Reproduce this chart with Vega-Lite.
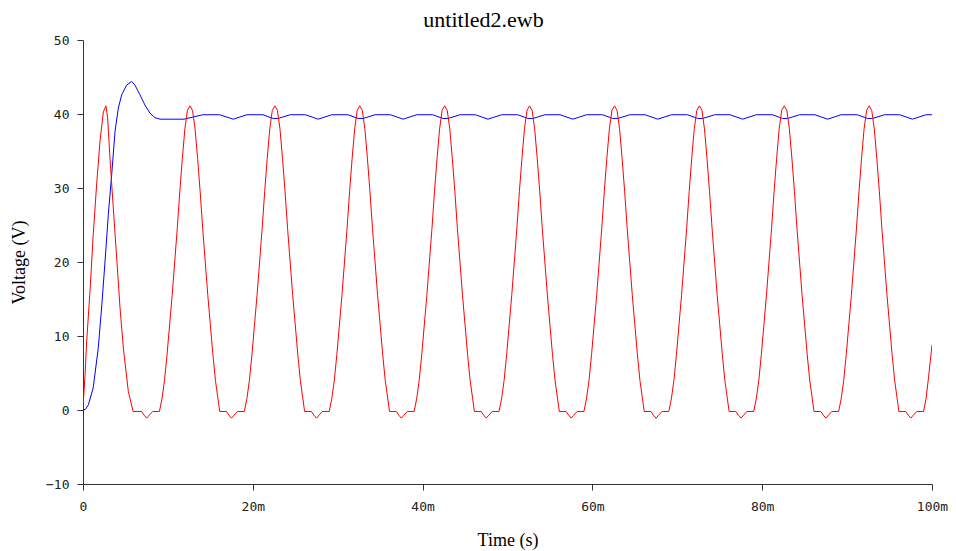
{
"$schema":"https://vega.github.io/schema/vega-lite/v6.json",
"width":849,"height":444,
"autosize":{"type":"none"},
"padding":{"left":83,"top":40,"right":24,"bottom":67},
"background":"white",
"title":{"text":"untitled2.ewb","font":"Liberation Serif","fontSize":22,"fontWeight":"normal","color":"#000000","anchor":"middle","dx":-24,"dy":26,"offset":11,"baseline":"alphabetic"},
"datasets":{
"output":[
{"time_ms":0,"voltage":0},{"time_ms":0.3,"voltage":0.1},{"time_ms":0.63,"voltage":0.7},{"time_ms":1.2,"voltage":3},{"time_ms":1.8,"voltage":8.4},{"time_ms":2.19,"voltage":13.8},{"time_ms":2.59,"voltage":20},{"time_ms":2.98,"voltage":26.4},{"time_ms":3.38,"voltage":31.8},{"time_ms":3.77,"voltage":37.6},{"time_ms":4.16,"voltage":40.8},{"time_ms":4.56,"voltage":42.6},{"time_ms":5.14,"voltage":43.9},{"time_ms":5.73,"voltage":44.4},{"time_ms":6.12,"voltage":43.9},{"time_ms":6.71,"voltage":42.6},{"time_ms":7.3,"voltage":41.2},{"time_ms":7.9,"voltage":40.1},{"time_ms":8.48,"voltage":39.5},{"time_ms":9.07,"voltage":39.3},{"time_ms":11.9,"voltage":39.3},{"time_ms":14.1,"voltage":39.9},{"time_ms":16.1,"voltage":39.9},{"time_ms":17.7,"voltage":39.3},{"time_ms":19.3,"voltage":39.9},
{"time_ms":21.2,"voltage":39.9},{"time_ms":22.4,"voltage":39.4},{"time_ms":23.0,"voltage":39.4},{"time_ms":24.4,"voltage":39.9},{"time_ms":26.2,"voltage":39.9},{"time_ms":27.7,"voltage":39.3},{"time_ms":29.3,"voltage":39.9},
{"time_ms":31.2,"voltage":39.9},{"time_ms":32.4,"voltage":39.4},{"time_ms":33.0,"voltage":39.4},{"time_ms":34.4,"voltage":39.9},{"time_ms":36.2,"voltage":39.9},{"time_ms":37.7,"voltage":39.3},{"time_ms":39.3,"voltage":39.9},
{"time_ms":41.2,"voltage":39.9},{"time_ms":42.4,"voltage":39.4},{"time_ms":43.0,"voltage":39.4},{"time_ms":44.4,"voltage":39.9},{"time_ms":46.2,"voltage":39.9},{"time_ms":47.7,"voltage":39.3},{"time_ms":49.3,"voltage":39.9},
{"time_ms":51.2,"voltage":39.9},{"time_ms":52.4,"voltage":39.4},{"time_ms":53.0,"voltage":39.4},{"time_ms":54.4,"voltage":39.9},{"time_ms":56.2,"voltage":39.9},{"time_ms":57.7,"voltage":39.3},{"time_ms":59.3,"voltage":39.9},
{"time_ms":61.2,"voltage":39.9},{"time_ms":62.4,"voltage":39.4},{"time_ms":63.0,"voltage":39.4},{"time_ms":64.4,"voltage":39.9},{"time_ms":66.2,"voltage":39.9},{"time_ms":67.7,"voltage":39.3},{"time_ms":69.3,"voltage":39.9},
{"time_ms":71.2,"voltage":39.9},{"time_ms":72.4,"voltage":39.4},{"time_ms":73.0,"voltage":39.4},{"time_ms":74.4,"voltage":39.9},{"time_ms":76.2,"voltage":39.9},{"time_ms":77.7,"voltage":39.3},{"time_ms":79.3,"voltage":39.9},
{"time_ms":81.2,"voltage":39.9},{"time_ms":82.4,"voltage":39.4},{"time_ms":83.0,"voltage":39.4},{"time_ms":84.4,"voltage":39.9},{"time_ms":86.2,"voltage":39.9},{"time_ms":87.7,"voltage":39.3},{"time_ms":89.3,"voltage":39.9},
{"time_ms":91.2,"voltage":39.9},{"time_ms":92.4,"voltage":39.4},{"time_ms":93.0,"voltage":39.4},{"time_ms":94.4,"voltage":39.9},{"time_ms":96.2,"voltage":39.9},{"time_ms":97.7,"voltage":39.3},{"time_ms":99.3,"voltage":39.9},{"time_ms":100,"voltage":39.9}
],
"input":[
{"time_ms":0,"voltage":0.3},{"time_ms":0.24,"voltage":4.7},{"time_ms":0.43,"voltage":9.2},{"time_ms":0.82,"voltage":16},{"time_ms":1.2,"voltage":23.6},{"time_ms":1.6,"voltage":30.4},{"time_ms":2.0,"voltage":36.3},{"time_ms":2.4,"voltage":40.3},{"time_ms":2.7,"voltage":41.1},{"time_ms":2.9,"voltage":39.5},{"time_ms":3.18,"voltage":34},{"time_ms":3.57,"voltage":27.3},{"time_ms":3.97,"voltage":20.5},{"time_ms":4.36,"voltage":13.8},{"time_ms":4.75,"voltage":8.4},{"time_ms":5.34,"voltage":2.5},{"time_ms":5.9,"voltage":-0.2},{"time_ms":6.9,"voltage":-0.2},{"time_ms":7.2,"voltage":-0.7},{"time_ms":7.5,"voltage":-1.1},{"time_ms":7.8,"voltage":-0.7},{"time_ms":8.2,"voltage":-0.2},
{"time_ms":9.0,"voltage":-0.2},{"time_ms":9.3,"voltage":1.5},{"time_ms":9.6,"voltage":4},{"time_ms":9.9,"voltage":7.5},{"time_ms":10.2,"voltage":11.5},{"time_ms":10.5,"voltage":15.5},{"time_ms":10.8,"voltage":20},{"time_ms":11.1,"voltage":24.5},{"time_ms":11.4,"voltage":29.5},{"time_ms":11.7,"voltage":34},{"time_ms":12.0,"voltage":38},{"time_ms":12.3,"voltage":40.5},{"time_ms":12.6,"voltage":41.1},{"time_ms":12.9,"voltage":40.5},{"time_ms":13.2,"voltage":38},{"time_ms":13.5,"voltage":34},{"time_ms":13.8,"voltage":29.5},{"time_ms":14.1,"voltage":24.5},{"time_ms":14.4,"voltage":20},{"time_ms":14.7,"voltage":15.5},{"time_ms":15.0,"voltage":11.5},{"time_ms":15.3,"voltage":7.5},{"time_ms":15.6,"voltage":4},{"time_ms":15.9,"voltage":1.5},{"time_ms":16.1,"voltage":-0.2},{"time_ms":16.9,"voltage":-0.2},{"time_ms":17.2,"voltage":-0.7},{"time_ms":17.5,"voltage":-1.1},{"time_ms":17.8,"voltage":-0.7},{"time_ms":18.2,"voltage":-0.2},
{"time_ms":19.0,"voltage":-0.2},{"time_ms":19.3,"voltage":1.5},{"time_ms":19.6,"voltage":4},{"time_ms":19.9,"voltage":7.5},{"time_ms":20.2,"voltage":11.5},{"time_ms":20.5,"voltage":15.5},{"time_ms":20.8,"voltage":20},{"time_ms":21.1,"voltage":24.5},{"time_ms":21.4,"voltage":29.5},{"time_ms":21.7,"voltage":34},{"time_ms":22.0,"voltage":38},{"time_ms":22.3,"voltage":40.5},{"time_ms":22.6,"voltage":41.1},{"time_ms":22.9,"voltage":40.5},{"time_ms":23.2,"voltage":38},{"time_ms":23.5,"voltage":34},{"time_ms":23.8,"voltage":29.5},{"time_ms":24.1,"voltage":24.5},{"time_ms":24.4,"voltage":20},{"time_ms":24.7,"voltage":15.5},{"time_ms":25.0,"voltage":11.5},{"time_ms":25.3,"voltage":7.5},{"time_ms":25.6,"voltage":4},{"time_ms":25.9,"voltage":1.5},{"time_ms":26.1,"voltage":-0.2},{"time_ms":26.9,"voltage":-0.2},{"time_ms":27.2,"voltage":-0.7},{"time_ms":27.5,"voltage":-1.1},{"time_ms":27.8,"voltage":-0.7},{"time_ms":28.2,"voltage":-0.2},
{"time_ms":29.0,"voltage":-0.2},{"time_ms":29.3,"voltage":1.5},{"time_ms":29.6,"voltage":4},{"time_ms":29.9,"voltage":7.5},{"time_ms":30.2,"voltage":11.5},{"time_ms":30.5,"voltage":15.5},{"time_ms":30.8,"voltage":20},{"time_ms":31.1,"voltage":24.5},{"time_ms":31.4,"voltage":29.5},{"time_ms":31.7,"voltage":34},{"time_ms":32.0,"voltage":38},{"time_ms":32.3,"voltage":40.5},{"time_ms":32.6,"voltage":41.1},{"time_ms":32.9,"voltage":40.5},{"time_ms":33.2,"voltage":38},{"time_ms":33.5,"voltage":34},{"time_ms":33.8,"voltage":29.5},{"time_ms":34.1,"voltage":24.5},{"time_ms":34.4,"voltage":20},{"time_ms":34.7,"voltage":15.5},{"time_ms":35.0,"voltage":11.5},{"time_ms":35.3,"voltage":7.5},{"time_ms":35.6,"voltage":4},{"time_ms":35.9,"voltage":1.5},{"time_ms":36.1,"voltage":-0.2},{"time_ms":36.9,"voltage":-0.2},{"time_ms":37.2,"voltage":-0.7},{"time_ms":37.5,"voltage":-1.1},{"time_ms":37.8,"voltage":-0.7},{"time_ms":38.2,"voltage":-0.2},
{"time_ms":39.0,"voltage":-0.2},{"time_ms":39.3,"voltage":1.5},{"time_ms":39.6,"voltage":4},{"time_ms":39.9,"voltage":7.5},{"time_ms":40.2,"voltage":11.5},{"time_ms":40.5,"voltage":15.5},{"time_ms":40.8,"voltage":20},{"time_ms":41.1,"voltage":24.5},{"time_ms":41.4,"voltage":29.5},{"time_ms":41.7,"voltage":34},{"time_ms":42.0,"voltage":38},{"time_ms":42.3,"voltage":40.5},{"time_ms":42.6,"voltage":41.1},{"time_ms":42.9,"voltage":40.5},{"time_ms":43.2,"voltage":38},{"time_ms":43.5,"voltage":34},{"time_ms":43.8,"voltage":29.5},{"time_ms":44.1,"voltage":24.5},{"time_ms":44.4,"voltage":20},{"time_ms":44.7,"voltage":15.5},{"time_ms":45.0,"voltage":11.5},{"time_ms":45.3,"voltage":7.5},{"time_ms":45.6,"voltage":4},{"time_ms":45.9,"voltage":1.5},{"time_ms":46.1,"voltage":-0.2},{"time_ms":46.9,"voltage":-0.2},{"time_ms":47.2,"voltage":-0.7},{"time_ms":47.5,"voltage":-1.1},{"time_ms":47.8,"voltage":-0.7},{"time_ms":48.2,"voltage":-0.2},
{"time_ms":49.0,"voltage":-0.2},{"time_ms":49.3,"voltage":1.5},{"time_ms":49.6,"voltage":4},{"time_ms":49.9,"voltage":7.5},{"time_ms":50.2,"voltage":11.5},{"time_ms":50.5,"voltage":15.5},{"time_ms":50.8,"voltage":20},{"time_ms":51.1,"voltage":24.5},{"time_ms":51.4,"voltage":29.5},{"time_ms":51.7,"voltage":34},{"time_ms":52.0,"voltage":38},{"time_ms":52.3,"voltage":40.5},{"time_ms":52.6,"voltage":41.1},{"time_ms":52.9,"voltage":40.5},{"time_ms":53.2,"voltage":38},{"time_ms":53.5,"voltage":34},{"time_ms":53.8,"voltage":29.5},{"time_ms":54.1,"voltage":24.5},{"time_ms":54.4,"voltage":20},{"time_ms":54.7,"voltage":15.5},{"time_ms":55.0,"voltage":11.5},{"time_ms":55.3,"voltage":7.5},{"time_ms":55.6,"voltage":4},{"time_ms":55.9,"voltage":1.5},{"time_ms":56.1,"voltage":-0.2},{"time_ms":56.9,"voltage":-0.2},{"time_ms":57.2,"voltage":-0.7},{"time_ms":57.5,"voltage":-1.1},{"time_ms":57.8,"voltage":-0.7},{"time_ms":58.2,"voltage":-0.2},
{"time_ms":59.0,"voltage":-0.2},{"time_ms":59.3,"voltage":1.5},{"time_ms":59.6,"voltage":4},{"time_ms":59.9,"voltage":7.5},{"time_ms":60.2,"voltage":11.5},{"time_ms":60.5,"voltage":15.5},{"time_ms":60.8,"voltage":20},{"time_ms":61.1,"voltage":24.5},{"time_ms":61.4,"voltage":29.5},{"time_ms":61.7,"voltage":34},{"time_ms":62.0,"voltage":38},{"time_ms":62.3,"voltage":40.5},{"time_ms":62.6,"voltage":41.1},{"time_ms":62.9,"voltage":40.5},{"time_ms":63.2,"voltage":38},{"time_ms":63.5,"voltage":34},{"time_ms":63.8,"voltage":29.5},{"time_ms":64.1,"voltage":24.5},{"time_ms":64.4,"voltage":20},{"time_ms":64.7,"voltage":15.5},{"time_ms":65.0,"voltage":11.5},{"time_ms":65.3,"voltage":7.5},{"time_ms":65.6,"voltage":4},{"time_ms":65.9,"voltage":1.5},{"time_ms":66.1,"voltage":-0.2},{"time_ms":66.9,"voltage":-0.2},{"time_ms":67.2,"voltage":-0.7},{"time_ms":67.5,"voltage":-1.1},{"time_ms":67.8,"voltage":-0.7},{"time_ms":68.2,"voltage":-0.2},
{"time_ms":69.0,"voltage":-0.2},{"time_ms":69.3,"voltage":1.5},{"time_ms":69.6,"voltage":4},{"time_ms":69.9,"voltage":7.5},{"time_ms":70.2,"voltage":11.5},{"time_ms":70.5,"voltage":15.5},{"time_ms":70.8,"voltage":20},{"time_ms":71.1,"voltage":24.5},{"time_ms":71.4,"voltage":29.5},{"time_ms":71.7,"voltage":34},{"time_ms":72.0,"voltage":38},{"time_ms":72.3,"voltage":40.5},{"time_ms":72.6,"voltage":41.1},{"time_ms":72.9,"voltage":40.5},{"time_ms":73.2,"voltage":38},{"time_ms":73.5,"voltage":34},{"time_ms":73.8,"voltage":29.5},{"time_ms":74.1,"voltage":24.5},{"time_ms":74.4,"voltage":20},{"time_ms":74.7,"voltage":15.5},{"time_ms":75.0,"voltage":11.5},{"time_ms":75.3,"voltage":7.5},{"time_ms":75.6,"voltage":4},{"time_ms":75.9,"voltage":1.5},{"time_ms":76.1,"voltage":-0.2},{"time_ms":76.9,"voltage":-0.2},{"time_ms":77.2,"voltage":-0.7},{"time_ms":77.5,"voltage":-1.1},{"time_ms":77.8,"voltage":-0.7},{"time_ms":78.2,"voltage":-0.2},
{"time_ms":79.0,"voltage":-0.2},{"time_ms":79.3,"voltage":1.5},{"time_ms":79.6,"voltage":4},{"time_ms":79.9,"voltage":7.5},{"time_ms":80.2,"voltage":11.5},{"time_ms":80.5,"voltage":15.5},{"time_ms":80.8,"voltage":20},{"time_ms":81.1,"voltage":24.5},{"time_ms":81.4,"voltage":29.5},{"time_ms":81.7,"voltage":34},{"time_ms":82.0,"voltage":38},{"time_ms":82.3,"voltage":40.5},{"time_ms":82.6,"voltage":41.1},{"time_ms":82.9,"voltage":40.5},{"time_ms":83.2,"voltage":38},{"time_ms":83.5,"voltage":34},{"time_ms":83.8,"voltage":29.5},{"time_ms":84.1,"voltage":24.5},{"time_ms":84.4,"voltage":20},{"time_ms":84.7,"voltage":15.5},{"time_ms":85.0,"voltage":11.5},{"time_ms":85.3,"voltage":7.5},{"time_ms":85.6,"voltage":4},{"time_ms":85.9,"voltage":1.5},{"time_ms":86.1,"voltage":-0.2},{"time_ms":86.9,"voltage":-0.2},{"time_ms":87.2,"voltage":-0.7},{"time_ms":87.5,"voltage":-1.1},{"time_ms":87.8,"voltage":-0.7},{"time_ms":88.2,"voltage":-0.2},
{"time_ms":89.0,"voltage":-0.2},{"time_ms":89.3,"voltage":1.5},{"time_ms":89.6,"voltage":4},{"time_ms":89.9,"voltage":7.5},{"time_ms":90.2,"voltage":11.5},{"time_ms":90.5,"voltage":15.5},{"time_ms":90.8,"voltage":20},{"time_ms":91.1,"voltage":24.5},{"time_ms":91.4,"voltage":29.5},{"time_ms":91.7,"voltage":34},{"time_ms":92.0,"voltage":38},{"time_ms":92.3,"voltage":40.5},{"time_ms":92.6,"voltage":41.1},{"time_ms":92.9,"voltage":40.5},{"time_ms":93.2,"voltage":38},{"time_ms":93.5,"voltage":34},{"time_ms":93.8,"voltage":29.5},{"time_ms":94.1,"voltage":24.5},{"time_ms":94.4,"voltage":20},{"time_ms":94.7,"voltage":15.5},{"time_ms":95.0,"voltage":11.5},{"time_ms":95.3,"voltage":7.5},{"time_ms":95.6,"voltage":4},{"time_ms":95.9,"voltage":1.5},{"time_ms":96.1,"voltage":-0.2},{"time_ms":96.9,"voltage":-0.2},{"time_ms":97.2,"voltage":-0.7},{"time_ms":97.5,"voltage":-1.1},{"time_ms":97.8,"voltage":-0.7},{"time_ms":98.2,"voltage":-0.2},
{"time_ms":99.0,"voltage":-0.2},{"time_ms":99.3,"voltage":1.5},{"time_ms":99.6,"voltage":4.5},{"time_ms":100,"voltage":8.8}
]
},
"encoding":{
"x":{"field":"time_ms","type":"quantitative","scale":{"domain":[0,100],"nice":false,"zero":false},
 "axis":{"title":"Time (s)","titleFont":"Liberation Serif","titleFontSize":18,"titleFontWeight":"normal","titleColor":"#000000","titlePadding":18,
 "values":[0,20,40,60,80,100],"labelExpr":"datum.value == 0 ? '0' : datum.value + 'm'","labelFont":"DejaVu Sans Mono","labelFontSize":13,"labelColor":"#222222","labelPadding":10,"labelFlush":false,"labelOverlap":false,
 "tickSize":6,"tickColor":"#333333","domainColor":"#333333","grid":false}},
"y":{"field":"voltage","type":"quantitative","scale":{"domain":[-10,50],"nice":false,"zero":false},
 "axis":{"title":"Voltage (V)","titleFont":"Liberation Serif","titleFontSize":18,"titleFontWeight":"normal","titleColor":"#000000","titlePadding":17,
 "values":[-10,0,10,20,30,40,50],"labelFont":"DejaVu Sans Mono","labelFontSize":13,"labelColor":"#222222","labelPadding":8,"labelFlush":false,"labelOverlap":false,
 "tickSize":6,"tickColor":"#333333","domainColor":"#333333","grid":false}}
},
"layer":[
{"data":{"name":"output"},"mark":{"type":"line","color":"#0000ff","strokeWidth":1,"clip":true}},
{"data":{"name":"input"},"mark":{"type":"line","color":"#ff0000","strokeWidth":1,"clip":true}}
],
"config":{"view":{"stroke":null}}
}
